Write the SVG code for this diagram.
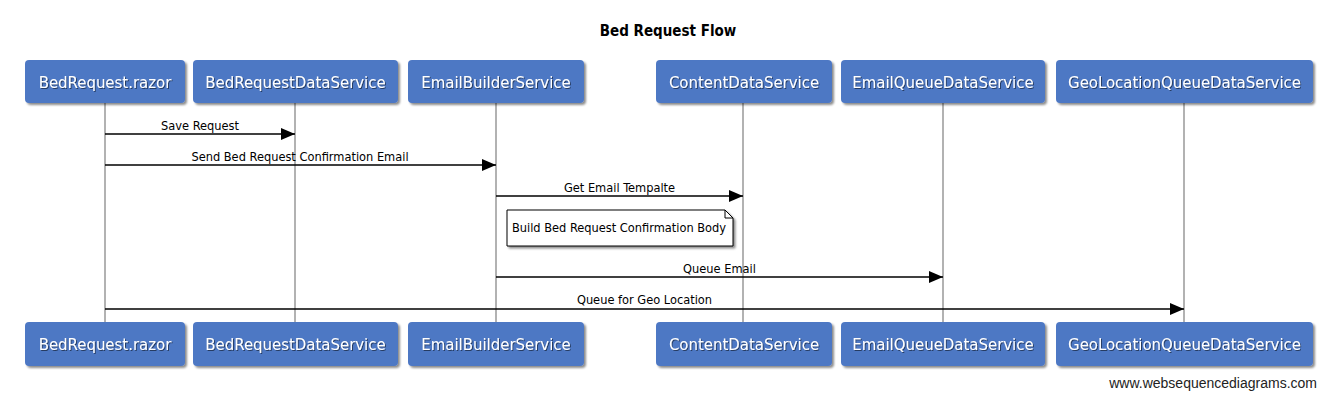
<svg xmlns="http://www.w3.org/2000/svg" width="1335" height="401" viewBox="0 0 1335 401">
<defs>
<filter id="sh" x="-10%" y="-20%" width="130%" height="160%">
<feDropShadow dx="2" dy="2" stdDeviation="1.2" flood-color="#000" flood-opacity="0.45"/>
</filter>
<filter id="ts" x="-5%" y="-20%" width="110%" height="150%">
<feDropShadow dx="1" dy="1" stdDeviation="0.6" flood-color="#000" flood-opacity="0.5"/>
</filter>
<marker id="arr" markerWidth="14" markerHeight="12" refX="14" refY="6" orient="auto" markerUnits="userSpaceOnUse">
<path d="M0,0 L14,6 L0,12 Z" fill="#000"/>
</marker>
</defs>
<style>
.box{fill:#4d78c4;filter:url(#sh)}
.bt{font-family:"DejaVu Sans Condensed","DejaVu Sans",sans-serif;font-stretch:condensed;font-size:16.6px;fill:#fff;text-anchor:middle;filter:url(#ts)}
.life{stroke:#999;stroke-width:1.5}
.msg{stroke:#000;stroke-width:1.6;fill:none;marker-end:url(#arr)}
.ml{font-family:"DejaVu Sans Condensed","DejaVu Sans",sans-serif;font-stretch:condensed;font-size:12.7px;fill:#000;text-anchor:middle}
.title{font-family:"DejaVu Sans Condensed","DejaVu Sans",sans-serif;font-stretch:condensed;font-size:15px;font-weight:bold;fill:#000;text-anchor:middle}
.wm{font-family:"Liberation Sans",Arial,sans-serif;font-size:14px;fill:#222;text-anchor:end}
</style>
<rect width="1335" height="401" fill="#fff"/>
<text class="title" x="668" y="36">Bed Request Flow</text>
<g id="lifelines">
<line class="life" x1="105" y1="103" x2="105" y2="322"/>
<line class="life" x1="295" y1="103" x2="295" y2="322"/>
<line class="life" x1="496" y1="103" x2="496" y2="322"/>
<line class="life" x1="743" y1="103" x2="743" y2="322"/>
<line class="life" x1="943" y1="103" x2="943" y2="322"/>
<line class="life" x1="1184" y1="103" x2="1184" y2="322"/>
</g>
<g id="node-bedrequest-razor">
<rect class="box" x="25" y="60" width="160" height="43" rx="4"/>
<text class="bt" x="105" y="87.5">BedRequest.razor</text>
<rect class="box" x="25" y="322" width="160" height="44" rx="4"/>
<text class="bt" x="105" y="349.5">BedRequest.razor</text>
</g>
<g id="node-bedrequestdataservice">
<rect class="box" x="193" y="60" width="205" height="43" rx="4"/>
<text class="bt" x="295.5" y="87.5">BedRequestDataService</text>
<rect class="box" x="193" y="322" width="205" height="44" rx="4"/>
<text class="bt" x="295.5" y="349.5">BedRequestDataService</text>
</g>
<g id="node-emailbuilderservice">
<rect class="box" x="408" y="60" width="176" height="43" rx="4"/>
<text class="bt" x="496" y="87.5">EmailBuilderService</text>
<rect class="box" x="408" y="322" width="176" height="44" rx="4"/>
<text class="bt" x="496" y="349.5">EmailBuilderService</text>
</g>
<g id="node-contentdataservice">
<rect class="box" x="656" y="60" width="176" height="43" rx="4"/>
<text class="bt" x="744" y="87.5">ContentDataService</text>
<rect class="box" x="656" y="322" width="176" height="44" rx="4"/>
<text class="bt" x="744" y="349.5">ContentDataService</text>
</g>
<g id="node-emailqueuedataservice">
<rect class="box" x="841" y="60" width="204" height="43" rx="4"/>
<text class="bt" x="943" y="87.5">EmailQueueDataService</text>
<rect class="box" x="841" y="322" width="204" height="44" rx="4"/>
<text class="bt" x="943" y="349.5">EmailQueueDataService</text>
</g>
<g id="node-geolocationqueuedataservice">
<rect class="box" x="1056" y="60" width="257" height="43" rx="4"/>
<text class="bt" x="1184.5" y="87.5">GeoLocationQueueDataService</text>
<rect class="box" x="1056" y="322" width="257" height="44" rx="4"/>
<text class="bt" x="1184.5" y="349.5">GeoLocationQueueDataService</text>
</g>
<g id="note-build-body">
<path d="M507,210 L725,210 L733,218 L733,246 L507,246 Z" fill="#fff" stroke="#000" stroke-width="1" filter="url(#sh)"/>
<path d="M725,210 L725,218 L733,218" fill="none" stroke="#000" stroke-width="1"/>
<text class="ml" x="619" y="232">Build Bed Request Confirmation Body</text>
</g>
<g id="connectors">
<line class="msg" x1="105" y1="134" x2="295" y2="134"/>
<text class="ml" x="200" y="130">Save Request</text>
<line class="msg" x1="105" y1="165" x2="496" y2="165"/>
<text class="ml" x="300" y="161">Send Bed Request Confirmation Email</text>
<line class="msg" x1="496" y1="196" x2="743" y2="196"/>
<text class="ml" x="619.5" y="192">Get Email Tempalte</text>
<line class="msg" x1="496" y1="277" x2="943" y2="277"/>
<text class="ml" x="719.5" y="273">Queue Email</text>
<line class="msg" x1="105" y1="309" x2="1184" y2="309"/>
<text class="ml" x="644.5" y="304">Queue for Geo Location</text>
</g>
<text class="wm" x="1317" y="388">www.websequencediagrams.com</text>
</svg>
